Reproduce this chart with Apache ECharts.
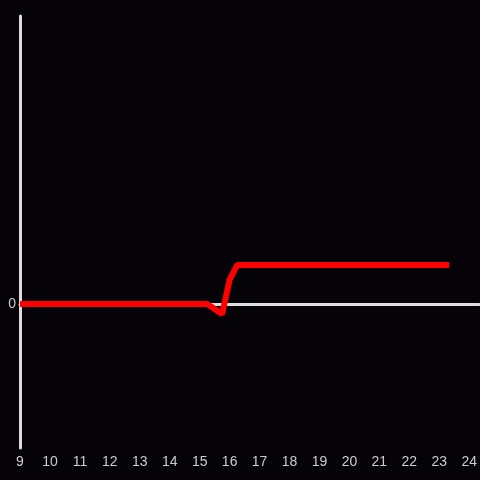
<!DOCTYPE html>
<html>
<head>
<meta charset="utf-8">
<script src="https://cdn.jsdelivr.net/npm/echarts@6/dist/echarts.min.js"></script>
<style>
  html, body { margin: 0; padding: 0; background: #050308; }
  #chart { width: 480px; height: 480px; }
</style>
</head>
<body>
<div id="chart"></div>
<script>
// hours of the day and the value at each hour
var hours = [9, 15.25, 15.75, 16, 16.25, 23.33];
var values = [0, 0, -0.07, 0.17, 0.27, 0.27];
var xTicks = [9, 10, 11, 12, 13, 14, 15, 16, 17, 18, 19, 20, 21, 22, 23, 24];

var chart = echarts.init(document.getElementById('chart'));

var points = hours.map(function(h, i){
	return [h, values[i]];
});

var opt = {
	backgroundColor: '#050308',
	animation: false,
	grid: {
		left: 20,
		right: 0,
		top: 16,
		bottom: 32
	},
	xAxis: [{
		type: 'value',
		min: xTicks[0],
		max: 24 + 1 / 3,
		interval: 1,
		axisLine: { show: false, onZero: false },
		axisTick: { show: false },
		splitLine: { show: false },
		axisLabel: {
			color: '#cccccc',
			fontSize: 14,
			margin: 7,
			showMaxLabel: false,
			formatter: function(v){
				return xTicks.indexOf(v) >= 0 ? String(v) : '';
			}
		}
	}, {
		type: 'value',
		position: 'top',
		min: xTicks[0],
		max: 24 + 1 / 3,
		axisLine: { show: true, onZero: true, lineStyle: { color: '#dddddd', width: 3 } },
		axisTick: { show: false },
		axisLabel: { show: false },
		splitLine: { show: false }
	}],
	yAxis: {
		type: 'value',
		min: -1,
		max: 2,
		interval: 1,
		axisLine: { show: true, lineStyle: { color: '#dddddd', width: 3 } },
		axisTick: { show: false },
		splitLine: { show: false },
		axisLabel: {
			color: '#cccccc',
			fontSize: 14,
			margin: 4,
			formatter: function(v){
				return v === 0 ? '0' : '';
			}
		}
	},
	series: [{
		type: 'line',
		data: points,
		showSymbol: false,
		lineStyle: { color: '#ff0000', width: 6 }
	}]
};
chart.setOption(opt);
</script>
</body>
</html>
